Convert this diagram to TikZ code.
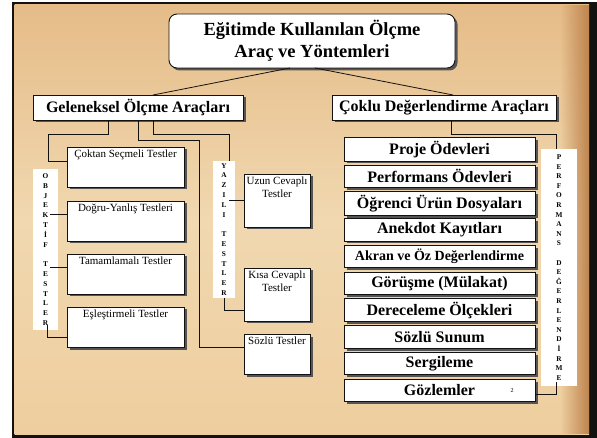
\documentclass[tikz,border=0pt]{standalone}
\usepackage{fontspec}
\setmainfont{Liberation Serif}
\usetikzlibrary{shadows,fadings,calc}

\definecolor{slideInk}{RGB}{20,18,16}
\definecolor{woodTop}{RGB}{229,188,136}
\definecolor{woodMid}{RGB}{241,216,176}
\definecolor{woodLow}{RGB}{238,206,158}
\definecolor{woodEdge}{RGB}{190,132,78}
\definecolor{boxShade}{RGB}{85,85,85}

\tikzfading[name=toRight,left color=transparent!100,right color=transparent!0]

\tikzset{
  every node/.style={outer sep=0pt},
  boxshadow/.style={general shadow={fill=boxShade,shadow xshift=2.5pt,shadow yshift=-2.5pt}},
  titlebox/.style={draw=slideInk,fill=white,line width=0.9pt,rounded corners=8pt,boxshadow,
    minimum width=286pt,minimum height=54pt,align=center,font=\bfseries\fontsize{18.5}{22}\selectfont},
  headbox/.style={draw=slideInk,fill=white,line width=0.8pt,boxshadow,minimum height=25pt,
    font=\bfseries\fontsize{16}{18}\selectfont},
  testbox/.style={draw=slideInk,fill=white,line width=0.7pt,boxshadow,minimum width=#1pt},
  toptext/.style={label={[anchor=north,align=center,inner sep=2.5pt,
    font=\fontsize{11}{13}\selectfont]north:{#1}}},
  listbox/.style={draw=slideInk,fill=white,line width=0.8pt,boxshadow,minimum width=191pt,
    minimum height=22.5pt,font=\bfseries\fontsize{16}{18}\selectfont},
  sidelabel/.style={fill=white,align=center,inner sep=0pt,font=\bfseries\fontsize{7.3}{9.8}\selectfont},
  link/.style={draw=slideInk,line width=0.8pt}
}

\begin{document}
\begin{tikzpicture}[x=1pt,y=-1pt]
\useasboundingbox (0,0) rectangle (597,438);
% slide background
\fill[white] (0,0) rectangle (597,438);
\fill[slideInk] (12,2) rectangle (597,438);
\shade[top color=woodTop,bottom color=woodLow,middle color=woodMid] (14.5,4.5) rectangle (589,434);
\fill[woodEdge,path fading=toRight] (560,4.5) rectangle (589,434);

% title and the two branches
\node[titlebox] (title) at (312,41) {Eğitimde Kullanılan Ölçme\\Araç ve Yöntemleri};
\node[headbox,minimum width=210pt] (gel) at (138,107.5) {Geleneksel Ölçme Araçları};
\node[headbox,minimum width=224pt] (coklu) at (444,107.5) {Çoklu Değerlendirme Araçları};

% objective tests
\node[testbox=117,minimum height=40pt,toptext={Çoktan Seçmeli Testler}] (coktan) at (125.5,167) {};
\node[testbox=117,minimum height=40pt,toptext={Doğru-Yanlış Testleri}] (dogru) at (125.5,221) {};
\node[testbox=117,minimum height=40pt,toptext={Tamamlamalı Testler}] (tamam) at (125.5,274) {};
\node[testbox=117,minimum height=40pt,toptext={Eşleştirmeli Testler}] (esles) at (125.5,327) {};
\node[sidelabel,minimum width=25pt,minimum height=161pt] (objektif) at (45.5,249.5)
  {O\\B\\J\\E\\K\\T\\İ\\F\\[9.8pt]T\\E\\S\\T\\L\\E\\R};

% written tests
\node[testbox=66,minimum height=53pt,toptext={Uzun Cevaplı\\Testler}] (uzun) at (277,200.5) {};
\node[testbox=66,minimum height=53pt,toptext={Kısa Cevaplı\\Testler}] (kisa) at (277,294.5) {};
\node[testbox=66,minimum height=40pt,toptext={Sözlü Testler}] (sozlu) at (277,354) {};
\node[sidelabel,minimum width=22pt,minimum height=137pt] (yazili) at (224,229.5)
  {Y\\A\\Z\\I\\L\\I\\[9.8pt]T\\E\\S\\T\\L\\E\\R};

% alternative assessment
\node[listbox] (proje) at (439.5,149.25) {Proje Ödevleri};
\node[listbox] (perfodev) at (439.5,176.25) {Performans Ödevleri};
\node[listbox] (urun) at (439.5,203.25) {Öğrenci Ürün Dosyaları};
\node[listbox] (anekdot) at (439.5,229.75) {Anekdot Kayıtları};
\node[listbox,font=\bfseries\fontsize{14}{16}\selectfont] (akran) at (439.5,256.5) {Akran ve Öz Değerlendirme};
\node[listbox] (gorusme) at (439.5,283.25) {Görüşme (Mülakat)};
\node[listbox] (derece) at (439.5,310) {Dereceleme Ölçekleri};
\node[listbox] (sunum) at (439.5,336.75) {Sözlü Sunum};
\node[listbox] (sergi) at (439.5,363.5) {Sergileme};
\node[listbox] (gozlem) at (439.5,390.25) {Gözlemler};
\node[font=\fontsize{6}{7}\selectfont] (sayfa) at (512,391) {2};
\node[sidelabel,minimum width=36pt,minimum height=237pt,font=\bfseries\fontsize{7.3}{9.6}\selectfont] (perf) at (559,267.5)
  {P\\E\\R\\F\\O\\R\\M\\A\\N\\S\\[9.6pt]D\\E\\Ğ\\E\\R\\L\\E\\N\\D\\İ\\R\\M\\E};

% connectors
\draw[link] ([xshift=-22pt]title.south) -- ([xshift=15pt]gel.north);
\draw[link] ([xshift=3pt]title.south) -- ([xshift=9pt]coklu.north);
\draw[link] ([xshift=-30pt]gel.south) |- (48,134) |- ([yshift=6pt]coktan.west);
\draw[link] ([yshift=7pt]dogru.west) -- ($(dogru.west -| objektif.center)+(4.5,-7)$);
\draw[link] ([yshift=7pt]tamam.west) -- ($(tamam.west -| objektif.center)+(4.5,-7)$);
\draw[link] ([xshift=1.5pt,yshift=5pt]objektif.south) |- ([yshift=-10pt]esles.west);
\draw[link] (gel.south) |- (199,140) |- ([yshift=7pt]sozlu.west);
\draw[link] ([xshift=15pt]gel.south) |- (229,134) -- ([xshift=5pt]yazili.north);
\draw[link] (uzun.west) -- ($(uzun.west -| yazili.center)+(5,0)$);
\draw[link] (yazili.south) |- ([yshift=-15.5pt]kisa.west);
\draw[link] ([xshift=7pt]coklu.south) |- (556,134) -- ([xshift=-3pt]perf.north);
\draw[link] ([xshift=-3pt,yshift=4pt]perf.south) |- ([yshift=-4pt]gozlem.east);
\end{tikzpicture}
\end{document}
